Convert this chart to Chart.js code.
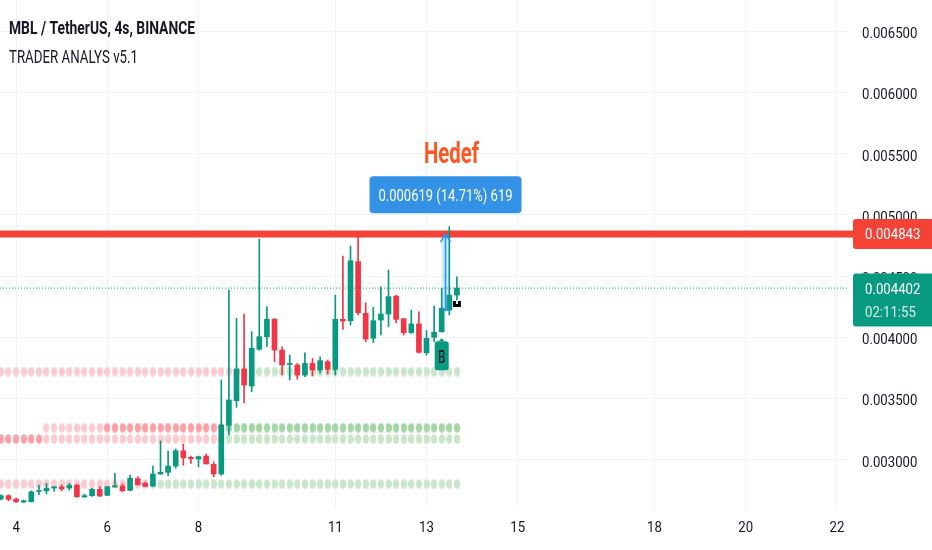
<!DOCTYPE html>
<html>
<head>
<meta charset="utf-8">
<script src="https://cdn.jsdelivr.net/npm/chart.js@4.4.1/dist/chart.umd.min.js"></script>
<style>
html, body { margin: 0; padding: 0; background: #fff; }
canvas { display: block; }
</style>
</head>
<body>
<canvas id="c" width="932" height="550"></canvas>
<script>
// 4h bars, first visible bar opens on the 3rd at 16:00
const firstBar = 3 + 16 / 24;
const barStep = 4 / 24;

const opens = [
  0.002679, 0.002706, 0.002679, 0.002654, 0.002657, 0.002741, 0.002746, 0.002769, 0.002777, 0.002769,
  0.002791, 0.002695, 0.002706, 0.002758, 0.002709, 0.002777, 0.002785, 0.002750, 0.002845, 0.002807,
  0.002785, 0.002883, 0.002897, 0.002948, 0.003073, 0.003019, 0.003006, 0.003030, 0.002962, 0.002883,
  0.003281, 0.003482, 0.003741, 0.003602, 0.003902, 0.004005, 0.004147, 0.003896, 0.003778, 0.003774,
  0.003692, 0.003787, 0.003733, 0.003801, 0.003738, 0.004147, 0.004136, 0.004618, 0.004196, 0.003992,
  0.004141, 0.004190, 0.004337, 0.004152, 0.004037, 0.004109, 0.003874, 0.004000, 0.004046, 0.004223,
  0.004345
];
const highs = [
  0.002714, 0.002714, 0.002686, 0.002671, 0.002746, 0.002793, 0.002807, 0.002781, 0.002793, 0.002807,
  0.002801, 0.002720, 0.002766, 0.002779, 0.002781, 0.002889, 0.002801, 0.002875, 0.002861, 0.002820,
  0.002948, 0.003153, 0.003071, 0.003087, 0.003126, 0.003030, 0.003030, 0.003046, 0.002984, 0.003651,
  0.004386, 0.004155, 0.004190, 0.004046, 0.004803, 0.004250, 0.004155, 0.003923, 0.003855, 0.003787,
  0.003874, 0.003828, 0.003841, 0.003814, 0.004345, 0.004664, 0.004746, 0.004843, 0.004283, 0.004245,
  0.004413, 0.004550, 0.004345, 0.004152, 0.004223, 0.004209, 0.004054, 0.004256, 0.004400, 0.004904,
  0.004495
];
const lows = [
  0.002671, 0.002664, 0.002649, 0.002649, 0.002654, 0.002714, 0.002720, 0.002742, 0.002746, 0.002752,
  0.002691, 0.002693, 0.002701, 0.002698, 0.002706, 0.002775, 0.002738, 0.002746, 0.002791, 0.002780,
  0.002781, 0.002881, 0.002869, 0.002930, 0.002954, 0.002970, 0.002942, 0.002965, 0.002861, 0.002873,
  0.003202, 0.003428, 0.003463, 0.003555, 0.003894, 0.003923, 0.003801, 0.003692, 0.003651, 0.003657,
  0.003678, 0.003684, 0.003706, 0.003700, 0.003692, 0.004065, 0.004100, 0.004182, 0.003964, 0.003956,
  0.004019, 0.004086, 0.004119, 0.004019, 0.004033, 0.003871, 0.003855, 0.003964, 0.004041, 0.004182,
  0.004305
];
const closes = [
  0.002706, 0.002676, 0.002657, 0.002665, 0.002738, 0.002746, 0.002766, 0.002779, 0.002761, 0.002791,
  0.002698, 0.002706, 0.002758, 0.002703, 0.002779, 0.002787, 0.002746, 0.002848, 0.002796, 0.002782,
  0.002883, 0.002897, 0.002948, 0.003073, 0.003016, 0.003008, 0.003025, 0.002965, 0.002883, 0.003283,
  0.003488, 0.003741, 0.003610, 0.003910, 0.004005, 0.004147, 0.003896, 0.003774, 0.003782, 0.003692,
  0.003787, 0.003733, 0.003809, 0.003738, 0.004147, 0.004133, 0.004626, 0.004201, 0.003986, 0.004136,
  0.004190, 0.004332, 0.004147, 0.004037, 0.004109, 0.003877, 0.003992, 0.004041, 0.004237, 0.004345,
  0.004402
];

const xTicks = [4, 6, 8, 11, 13, 15, 18, 20, 22];
const yTicks = [0.003, 0.0035, 0.004, 0.0045, 0.005, 0.0055, 0.006, 0.0065];

const targetPrice = 0.004843;
const measureFrom = 0.004224;
const measureLabel = '0.000619 (14.71%) 619';
const countdown = '02:11:55';
const signalBar = 58;   // "B" marker bar

// indicator dot rows: level and run-length colour states (p/P pink, g/G green, - none)
const dotLevels = [0.003720, 0.003261, 0.003169, 0.002801];
const dotStates = [
  [['p', 34], ['g', 27]],
  [['-', 6], ['p', 8], ['P', 16], ['G', 31]],
  [['P', 6], ['p', 24], ['g', 31]],
  [['p', 20], ['g', 41]]
];

const teal = '#089981';
const red = '#f23645';
const lineRed = '#f44336';
const gridColor = '#f0f2f6';
const textColor = '#131722';
const xMin = 3.647, xMax = 22.243;
const yMin = 0.0026054, yMax = 0.0067557;

const times = opens.map((_, i) => firstBar + i * barStep);
const candleColors = opens.map((o, i) => closes[i] >= o ? teal : red);
const last = closes[closes.length - 1];

const dotColors = { p: '#fdcad0', P: '#ff9fa4', g: '#c8e6c9', G: '#a3d6a5' };
function ellipseImg(color) {
  const c = document.createElement('canvas');
  c.width = 6; c.height = 10;
  const g = c.getContext('2d');
  g.fillStyle = color;
  g.beginPath();
  g.ellipse(3, 5, 3, 4.7, 0, 0, Math.PI * 2);
  g.fill();
  return c;
}
const dotImages = {};
for (const k in dotColors) dotImages[k] = ellipseImg(dotColors[k]);

const dotSets = dotLevels.map((lvl, r) => {
  const states = [];
  dotStates[r].forEach(([s, n]) => { for (let j = 0; j < n; j++) states.push(s); });
  const pts = [], styles = [];
  states.forEach((s, i) => {
    if (s !== '-') { pts.push({ x: times[i], y: lvl }); styles.push(dotImages[s]); }
  });
  return { type: 'line', data: pts, showLine: false, pointStyle: styles, pointRadius: 4, order: 10 };
});

function txt(ctx, s, x, y, size, color, align, weight, width) {
  ctx.save();
  ctx.font = (weight || 'normal') + ' ' + size + 'px Roboto, sans-serif';
  ctx.fillStyle = color;
  ctx.textBaseline = 'alphabetic';
  ctx.textAlign = align;
  const w = ctx.measureText(s).width;
  const k = width ? width / w : 0.88;
  ctx.translate(x, y + size * 0.355);
  ctx.scale(k, 1);
  ctx.fillText(s, 0, 0);
  ctx.restore();
}

const overlay = {
  id: 'overlay',
  afterDatasetsDraw(chart) {
    const { ctx, scales: { x, y } } = chart;
    // price range tool
    const x1 = x.getPixelForValue(times[signalBar]);
    const x2 = x.getPixelForValue(times[signalBar + 1]);
    const xc = (x1 + x2) / 2;
    const yTop = y.getPixelForValue(targetPrice);
    const yBot = y.getPixelForValue(measureFrom);
    ctx.save();
    ctx.fillStyle = 'rgba(33,150,243,0.22)';
    ctx.fillRect(x1, yTop, x2 - x1, yBot - yTop);
    ctx.strokeStyle = '#2196f3';
    ctx.lineWidth = 1.5;
    ctx.beginPath();
    ctx.moveTo(xc, yBot); ctx.lineTo(xc, yTop);
    ctx.moveTo(xc - 5, yTop + 8); ctx.lineTo(xc, yTop); ctx.lineTo(xc + 5, yTop + 8);
    ctx.moveTo(xc - 2, yBot); ctx.lineTo(x2, yBot);
    ctx.stroke();

    // measure label
    const by = y.getPixelForValue(0.00516);
    ctx.fillStyle = '#3391e6';
    ctx.beginPath();
    ctx.roundRect(xc - 76, by - 19, 152, 37, 4);
    ctx.fill();
    txt(ctx, measureLabel, xc, by, 16, '#ffffff', 'center', 'normal', 134);
    txt(ctx, 'Hedef', xc + 6, y.getPixelForValue(0.005511), 30, '#ff5722', 'center', 'bold', 55);

    // B signal
    const bx = x.getPixelForValue(times[signalBar]);
    const bt = y.getPixelForValue(lows[signalBar]) + 6;
    ctx.fillStyle = teal;
    ctx.beginPath();
    ctx.roundRect(bx - 7, bt + 3, 14, 29, 3);
    ctx.fill();
    ctx.beginPath();
    ctx.moveTo(bx - 3, bt + 3); ctx.lineTo(bx, bt); ctx.lineTo(bx + 3, bt + 3);
    ctx.fill();
    txt(ctx, 'B', bx, bt + 18, 19, '#000000', 'center', 'normal', 7);

    // small black marker under last bar
    const li = closes.length - 1;
    const lx = x.getPixelForValue(times[li]);
    const ly = y.getPixelForValue(lows[li]) + 1;
    ctx.fillStyle = '#000000';
    ctx.fillRect(lx - 4, ly, 8, 6);
    ctx.fillStyle = '#ffffff';
    ctx.fillRect(lx - 1, ly, 2, 3);
    ctx.restore();
  },
  afterDraw(chart) {
    const { ctx, chartArea, scales: { x, y } } = chart;
    x.ticks.forEach(t => txt(ctx, String(t.value), x.getPixelForValue(t.value), 527, 15, textColor, 'center'));
    y.ticks.forEach(t => txt(ctx, t.value.toFixed(6), chartArea.right + 14, y.getPixelForValue(t.value) + 1.5, 15, textColor, 'left'));

    const lx = chartArea.right + 5;
    ctx.save();
    const ry = y.getPixelForValue(targetPrice);
    ctx.fillStyle = lineRed;
    ctx.beginPath();
    ctx.roundRect(lx, ry - 15, 932 - lx + 4, 30, 3);
    ctx.fill();
    ctx.fillRect(chartArea.right, ry - 3.5, 6, 7);
    txt(ctx, targetPrice.toFixed(6), lx + 12, ry, 15, '#ffffff', 'left');

    const gy = y.getPixelForValue(last);
    ctx.fillStyle = teal;
    ctx.beginPath();
    ctx.roundRect(lx, gy - 14.5, 932 - lx + 4, 53, 3);
    ctx.fill();
    txt(ctx, last.toFixed(6), lx + 12, gy + 1, 15, '#ffffff', 'left');
    txt(ctx, countdown, lx + 12, gy + 24, 15, 'rgba(255,255,255,0.85)', 'left');
    ctx.restore();

    txt(ctx, 'MBL / TetherUS, 4s, BINANCE', 9, 27.5, 19, textColor, 'left', 'bold', 186);
    txt(ctx, 'TRADER ANALYS v5.1', 9, 56.7, 18.5, textColor, 'left', 'normal', 129);
  }
};

new Chart(document.getElementById('c'), {
  type: 'bar',
  data: {
    datasets: [
      {
        type: 'bar',
        data: times.map((t, i) => ({ x: t, y: [lows[i], highs[i]] })),
        backgroundColor: candleColors,
        barThickness: 1,
        grouped: false,
        order: 2
      },
      {
        type: 'bar',
        data: times.map((t, i) => ({ x: t, y: [opens[i], closes[i]] })),
        backgroundColor: candleColors,
        barThickness: 5,
        minBarLength: 1,
        grouped: false,
        order: 1
      },
      {
        type: 'line',
        data: [{ x: xMin, y: targetPrice }, { x: xMax, y: targetPrice }],
        borderColor: lineRed,
        borderWidth: 7,
        pointRadius: 0,
        order: 4
      },
      {
        type: 'line',
        data: [{ x: xMin, y: last }, { x: xMax, y: last }],
        borderColor: teal,
        borderWidth: 1,
        borderDash: [1, 2],
        pointRadius: 0,
        order: 5
      },
      ...dotSets
    ]
  },
  options: {
    responsive: false,
    animation: false,
    devicePixelRatio: 1,
    layout: { padding: 0, autoPadding: false },
    plugins: { legend: { display: false }, tooltip: { enabled: false } },
    scales: {
      x: {
        type: 'linear',
        min: xMin,
        max: xMax,
        offset: false,
        grid: { color: gridColor, drawTicks: false, offset: false },
        border: { display: false },
        ticks: { display: false },
        afterBuildTicks: s => { s.ticks = xTicks.map(v => ({ value: v })); },
        afterFit: s => { s.height = 42; }
      },
      y: {
        type: 'linear',
        position: 'right',
        min: yMin,
        max: yMax,
        beginAtZero: false,
        grid: { color: gridColor, drawTicks: false },
        border: { display: false },
        ticks: { display: false },
        afterBuildTicks: s => { s.ticks = yTicks.map(v => ({ value: v })); },
        afterFit: s => { s.width = 84; }
      }
    }
  },
  plugins: [overlay]
});
</script>
</body>
</html>
